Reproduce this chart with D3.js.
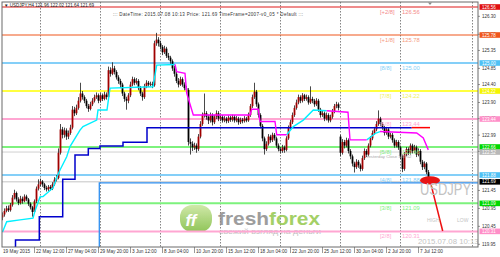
<!DOCTYPE html>
<html>
<head>
<meta charset="utf-8">
<script src="https://cdn.jsdelivr.net/npm/d3@7"></script>
<style>
  body { margin: 0; background: #fff; }
  svg { display: block; font-family: Arial, "Liberation Sans", sans-serif; }
</style>
</head>
<body>
<script>
// USDJPY H4, 19 May 20:00 .. 8 Jul 08:00 2015 (bar index 0..213)
var opens = [
  120.70,120.78,120.88,120.95,120.90,121.05,121.25,121.38,121.20,121.10,
  121.22,121.15,121.28,121.20,121.08,120.98,120.85,121.15,121.50,121.62,
  121.70,121.62,121.52,121.48,121.55,121.50,121.62,121.75,121.80,122.50,
  123.15,123.00,123.12,122.95,123.05,123.20,123.70,123.60,123.75,123.95,
  124.15,124.05,123.95,123.80,123.72,123.85,123.95,124.05,124.10,123.95,
  124.10,124.00,124.12,124.05,124.80,124.70,124.85,124.75,124.60,124.50,
  124.40,124.15,124.00,123.95,124.10,124.40,124.55,124.45,124.50,124.30,
  124.15,124.05,124.35,124.45,124.40,124.42,124.38,125.55,125.65,125.55,
  125.45,125.30,125.40,125.20,125.15,125.05,124.85,124.70,124.50,124.40,
  124.55,124.40,124.30,124.25,122.80,122.75,122.65,122.70,122.60,122.95,
  123.30,123.55,123.60,123.50,123.40,123.55,123.35,123.50,123.60,123.45,
  123.50,123.40,123.45,123.38,123.48,123.42,123.50,123.40,123.45,123.35,
  123.42,123.38,123.45,123.40,123.55,123.80,124.05,124.20,123.85,123.55,
  123.25,122.90,122.60,122.75,122.95,122.85,123.00,122.90,122.70,122.60,
  122.55,122.65,122.58,122.90,123.20,123.35,123.55,123.75,123.90,124.05,
  123.95,124.10,124.00,124.05,123.90,124.00,123.95,123.85,123.95,123.70,
  123.55,123.60,123.45,123.55,123.40,123.50,123.65,123.80,123.85,122.95,
  122.50,122.80,122.70,122.85,122.55,122.40,122.20,122.10,122.25,122.15,
  122.05,122.35,122.55,122.45,122.70,122.90,123.05,123.15,123.30,123.45,
  123.30,123.20,123.05,123.15,122.95,123.00,122.85,122.70,122.80,122.65,
  122.40,122.05,122.45,122.60,122.50,122.70,122.55,122.65,122.45,122.55,
  122.25,122.10,122.20,121.96
];
var highs = [
  120.84,120.95,121.02,121.03,121.10,121.32,121.47,121.42,121.26,121.30,
  121.28,121.34,121.33,121.24,121.12,121.02,121.20,121.56,121.76,121.78,
  121.74,121.66,121.58,121.60,121.60,121.68,121.82,121.88,122.62,123.30,
  123.22,123.20,123.18,123.12,123.28,123.80,123.78,123.84,124.05,124.45,
  124.22,124.10,124.00,123.86,123.92,124.02,124.12,124.18,124.15,124.16,
  124.15,124.20,124.18,124.90,124.88,125.02,124.92,124.80,124.66,124.56,
  124.45,124.20,124.06,124.16,124.48,124.62,124.60,124.58,124.55,124.36,
  124.20,124.42,124.52,124.50,124.48,124.48,125.62,125.84,125.72,125.62,
  125.50,125.48,125.45,125.28,125.20,125.10,124.92,124.76,124.58,124.62,
  124.60,124.46,124.36,124.30,122.90,122.82,122.78,122.76,123.02,123.38,
  123.62,124.15,123.66,123.56,123.62,123.60,123.56,123.68,123.66,123.56,
  123.55,123.52,123.50,123.54,123.53,123.56,123.55,123.52,123.50,123.48,
  123.47,123.52,123.50,123.62,123.86,124.12,124.45,124.25,123.90,123.60,
  123.30,122.95,122.82,123.02,123.00,123.06,123.05,122.95,122.76,122.66,
  122.72,122.70,122.96,123.26,123.42,123.62,123.82,123.98,124.12,124.10,
  124.16,124.14,124.12,124.10,124.35,124.06,124.00,124.02,124.00,123.75,
  123.68,123.65,123.62,123.60,123.56,123.72,123.86,123.92,123.90,123.00,
  122.88,122.86,122.92,122.90,122.60,122.45,122.25,122.32,122.30,122.20,
  122.42,122.62,122.60,122.76,122.96,123.12,123.22,123.38,123.68,123.50,
  123.35,123.25,123.22,123.20,123.06,123.05,122.90,122.86,122.85,122.70,
  122.45,122.52,122.66,122.65,122.76,122.75,122.72,122.70,122.62,122.60,
  122.30,122.26,122.24,122.02
];
var lows = [
  120.62,120.72,120.84,120.85,120.86,121.00,121.20,121.14,121.04,121.06,
  121.08,121.12,121.15,121.02,120.92,120.72,120.80,121.10,121.45,121.56,
  121.55,121.46,121.42,121.43,121.44,121.46,121.58,121.70,121.76,122.45,
  122.90,122.92,122.86,122.88,123.00,123.15,123.52,123.55,123.70,123.90,
  123.98,123.88,123.74,123.64,123.68,123.80,123.90,124.00,123.88,123.90,
  123.94,123.96,123.98,124.00,124.62,124.66,124.68,124.54,124.42,124.30,
  124.08,123.92,123.70,123.88,124.05,124.35,124.38,124.40,124.24,124.08,
  123.95,124.00,124.30,124.34,124.35,124.30,124.34,125.48,125.46,125.38,
  125.22,125.25,125.14,125.08,124.98,124.78,124.62,124.44,124.32,124.36,
  124.34,124.24,124.18,122.70,122.45,122.55,122.58,122.50,122.55,122.90,
  123.25,123.48,123.42,123.30,123.34,123.26,123.30,123.44,123.38,123.38,
  123.34,123.35,123.32,123.33,123.36,123.37,123.34,123.35,123.28,123.30,
  123.32,123.34,123.35,123.36,123.50,123.75,124.00,123.78,123.48,123.18,
  122.82,122.45,122.55,122.70,122.78,122.80,122.84,122.64,122.54,122.48,
  122.50,122.50,122.54,122.86,123.15,123.30,123.50,123.70,123.85,123.88,
  123.90,123.94,123.95,123.84,123.86,123.88,123.78,123.80,123.64,123.48,
  123.50,123.38,123.40,123.34,123.35,123.45,123.60,123.74,123.68,122.40,
  122.45,122.62,122.65,122.48,122.32,122.12,121.95,122.05,122.08,121.98,
  122.00,122.30,122.38,122.40,122.65,122.85,123.00,123.10,123.25,123.24,
  123.14,122.98,123.00,122.88,122.90,122.78,122.64,122.65,122.58,122.32,
  121.96,122.00,122.40,122.44,122.45,122.48,122.50,122.38,122.40,122.18,
  122.02,122.04,121.90,121.64
];
var closes = [
  120.78,120.88,120.95,120.90,121.05,121.25,121.38,121.20,121.10,121.22,
  121.15,121.28,121.20,121.08,120.98,120.85,121.15,121.50,121.62,121.70,
  121.62,121.52,121.48,121.55,121.50,121.62,121.75,121.80,122.50,123.15,
  123.00,123.12,122.95,123.05,123.20,123.70,123.60,123.75,123.95,124.15,
  124.05,123.95,123.80,123.72,123.85,123.95,124.05,124.10,123.95,124.10,
  124.00,124.12,124.05,124.80,124.70,124.85,124.75,124.60,124.50,124.40,
  124.15,124.00,123.95,124.10,124.40,124.55,124.45,124.50,124.30,124.15,
  124.05,124.35,124.45,124.40,124.42,124.38,125.55,125.65,125.55,125.45,
  125.30,125.40,125.20,125.15,125.05,124.85,124.70,124.50,124.40,124.55,
  124.40,124.30,124.25,122.80,122.75,122.65,122.70,122.60,122.95,123.30,
  123.55,123.60,123.50,123.40,123.55,123.35,123.50,123.60,123.45,123.50,
  123.40,123.45,123.38,123.48,123.42,123.50,123.40,123.45,123.35,123.42,
  123.38,123.45,123.40,123.55,123.80,124.05,124.20,123.85,123.55,123.25,
  122.90,122.60,122.75,122.95,122.85,123.00,122.90,122.70,122.60,122.55,
  122.65,122.58,122.90,123.20,123.35,123.55,123.75,123.90,124.05,123.95,
  124.10,124.00,124.05,123.90,124.00,123.95,123.85,123.95,123.70,123.55,
  123.60,123.45,123.55,123.40,123.50,123.65,123.80,123.85,123.75,122.50,
  122.80,122.70,122.85,122.55,122.40,122.20,122.10,122.25,122.15,122.05,
  122.35,122.55,122.45,122.70,122.90,123.05,123.15,123.30,123.45,123.30,
  123.20,123.05,123.15,122.95,123.00,122.85,122.70,122.80,122.65,122.40,
  122.05,122.45,122.60,122.50,122.70,122.55,122.65,122.45,122.55,122.25,
  122.10,122.20,121.96,121.69
];

var timeLabels = ["22 May 12:00", "27 May 04:00", "29 May 20:00", "3 Jun 12:00", "8 Jun 04:00",
                  "10 Jun 20:00", "15 Jun 12:00", "18 Jun 04:00", "22 Jun 20:00", "25 Jun 12:00",
                  "30 Jun 04:00", "2 Jul 20:00", "7 Jul 12:00"];
var timeLabelBars = [16, 32, 48, 64, 80, 96, 112, 128, 144, 160, 176, 192, 208];
var gridBars = [19, 49, 79, 109, 139, 169, 199, 235];
var priceTicks = [126.30, 125.80, 125.35, 124.85, 124.40, 123.90, 123.45, 122.99, 122.54,
                  121.45, 120.95, 120.45, 119.95];

var murreyLabels = ["[+2/8]", "[+1/8]", "[8/8]", "[7/8]", "[6/8]", "[5/8]", "[4/8]", "[3/8]", "[2/8]"];
var murreyValues = [126.56, 125.78, 125.00, 124.22, 123.44, 122.66, 121.88, 121.09, 120.31];
var murreyLineColors = ["#e01b1b", "#f0561c", "#84cff8", "#ffff40", "#ffa6d2", "#7df27d", "#84cff8", "#7df27d", "#ffa6d2"];
var murreyTextColors = ["#f48a8a", "#f59a80", "#84cff8", "#f0f060", "#ffa6d2", "#80f080", "#84cff8", "#80f080", "#ffa6d2"];

var axisBoxValues = [126.56, 125.78, 125.00, 124.22, 123.44, 122.66, 122.52, 121.88, 121.69, 121.09, 120.31];
var axisBoxColors = ["#e01010", "#f0561c", "#4fc1f5", "#f5f500", "#ff8fc8", "#00d800", "#b8b8b8", "#4fc1f5", "#000000", "#00d800", "#ff8fc8"];

// trailing-stop style indicator lines: [bar, price]
var cyanSegments = [
  [[0,120.29],[2.1,120.58],[8.75,120.63],[15.25,120.68],[16.25,120.88],[18.75,121.27],[20.25,121.28],
   [25.25,121.52],[27.25,121.83],[28.75,122.02],[32.1,122.39],[33.75,122.67],[38.75,123.13],[40.25,123.23],
   [47.1,123.41],[47.75,123.69],[52.25,123.69],[53.75,124.30],[75.25,124.34],[77.1,124.94],[86.25,124.96]],
  [[142.1,123.00],[145.4,123.23],[150.4,123.41],[155.4,123.69],[162.1,123.67]],
  [[182.1,122.86],[186.75,123.05],[188.75,123.09]]
];
var magentaSegments = [
  [[86.25,124.96],[87.1,124.76],[91.25,124.71],[92.1,124.16],[95.4,123.55],[123.75,123.55],[124.6,123.71],
   [127.9,123.71],[128.75,123.37],[136.25,123.37],[137.1,123.00],[142.1,123.00]],
  [[162.1,123.67],[172.75,123.63],[173.75,122.86],[182.1,122.86]],
  [[188.75,123.09],[207.1,123.05],[210.4,122.91],[212.9,122.58]]
];
var navyLine = [[6.0,119.87],[6.5,120.07],[18.4,120.72],[30.1,121.76],[36.25,122.44],[42.9,122.62],
                [48.75,122.69],[60.25,122.79],[72.25,123.20],[204.6,123.20]];
var navyTail = [[204.6,123.20],[213.75,123.20]];
var blueLine = [[48.4,119.80],[48.4,121.66],[238,121.66]];
var bidPrice = 121.69, yesterdayClose = 122.52;
var ellipseAt = [213.75, 121.73];
var arrowTo = [220.1, 120.32];

var W = 500, H = 257;
var L = 2, R = 478, T = 2, B = 247;

var x = d3.scaleLinear().domain([0, 238]).range([2.5, 478.5]);
var y = d3.scaleLinear().domain([119.95, 126.56]).range([244.3, 7]);

var svg = d3.select("body").append("svg").attr("width", W).attr("height", H);
svg.append("rect").attr("width", W).attr("height", H).attr("fill", "#fff");

svg.append("clipPath").attr("id", "plot").append("rect")
   .attr("x", L).attr("y", T).attr("width", R - L).attr("height", B - T);
var g = svg.append("g").attr("clip-path", "url(#plot)");

// weekly grid
g.selectAll("line.grid").data(gridBars).join("line")
  .attr("x1", d => x(d)).attr("x2", d => x(d)).attr("y1", T).attr("y2", B)
  .attr("stroke", "#666").attr("stroke-width", 0.8).attr("stroke-dasharray", "1.5,1.5");

// logo (background watermark)
var logo = g.append("g").attr("opacity", 0.85);
var grad = svg.append("defs").append("linearGradient").attr("id", "ffg")
  .attr("x1", 0).attr("y1", 0).attr("x2", 0).attr("y2", 1);
grad.append("stop").attr("offset", "0%").attr("stop-color", "#c8e59a");
grad.append("stop").attr("offset", "100%").attr("stop-color", "#7dbb3c");
logo.append("rect").attr("x", 180).attr("y", 205).attr("width", 32).attr("height", 27).attr("rx", 12)
  .attr("fill", "url(#ffg)");
logo.append("text").attr("x", 185.5).attr("y", 225.5).attr("font-size", 17).attr("font-weight", "bold")
  .attr("font-style", "italic").attr("fill", "#fff").text("ff");
var brand = logo.append("text").attr("x", 218).attr("y", 225).attr("font-size", 19).attr("font-weight", "bold")
  .attr("textLength", 102).attr("lengthAdjust", "spacingAndGlyphs");
brand.append("tspan").attr("fill", "#8d8d8d").text("fresh");
brand.append("tspan").attr("fill", "#94c84c").text("forex");
logo.append("text").attr("x", 219).attr("y", 234).attr("font-size", 6.5).attr("fill", "#b5b5b5")
  .attr("textLength", 102).attr("lengthAdjust", "spacingAndGlyphs").text("свежий взгляд на деньги");

// reference lines
g.append("line").attr("x1", L).attr("x2", R).attr("y1", y(yesterdayClose)).attr("y2", y(yesterdayClose))
  .attr("stroke", "#d0d0d0").attr("stroke-width", 1);
g.append("line").attr("x1", L).attr("x2", R).attr("y1", y(bidPrice)).attr("y2", y(bidPrice))
  .attr("stroke", "#c4c4c4").attr("stroke-width", 1);

g.selectAll("line.murrey").data(murreyValues).join("line")
  .attr("x1", L).attr("x2", R).attr("y1", d => y(d)).attr("y2", d => y(d))
  .attr("stroke", (d, i) => murreyLineColors[i]).attr("stroke-width", (d, i) => i < 2 ? 1.2 : 2);

var line = d3.line().x(d => x(d[0])).y(d => y(d[1]));
var stepLine = d3.line().x(d => x(d[0])).y(d => y(d[1])).curve(d3.curveStepAfter);

g.append("path").attr("d", line(blueLine)).attr("fill", "none").attr("stroke", "#2f8ff0").attr("stroke-width", 1.3);

// candles
var idx = d3.range(closes.length);
g.selectAll("line.wick").data(idx).join("line")
  .attr("x1", i => x(i)).attr("x2", i => x(i))
  .attr("y1", i => y(highs[i])).attr("y2", i => y(lows[i]))
  .attr("stroke", "#1a1a1a").attr("stroke-width", 0.8);
g.selectAll("rect.body").data(idx).join("rect")
  .attr("x", i => x(i) - 0.9).attr("width", 1.8)
  .attr("y", i => y(Math.max(opens[i], closes[i])))
  .attr("height", i => Math.max(0.8, Math.abs(y(opens[i]) - y(closes[i]))))
  .attr("fill", i => closes[i] >= opens[i] ? "#a00000" : "#000");

// indicators
g.append("path").attr("d", stepLine(navyLine)).attr("fill", "none").attr("stroke", "#0000cc").attr("stroke-width", 1.5);
g.append("path").attr("d", line(navyTail)).attr("fill", "none").attr("stroke", "#ff0000").attr("stroke-width", 1.5);
cyanSegments.forEach(s => g.append("path").attr("d", line(s)).attr("fill", "none")
  .attr("stroke", "#00f0ff").attr("stroke-width", 1.4));
magentaSegments.forEach(s => g.append("path").attr("d", line(s)).attr("fill", "none")
  .attr("stroke", "#ff00ff").attr("stroke-width", 1.4));

// murrey captions
g.selectAll("text.ml").data(murreyValues).join("text")
  .attr("x", 380).attr("y", d => y(d) + 6.8).attr("font-size", 5.8)
  .attr("fill", (d, i) => murreyTextColors[i]).text((d, i) => murreyLabels[i]);
g.selectAll("text.mv").data(murreyValues).join("text")
  .attr("x", 402).attr("y", d => y(d) + 6.8).attr("font-size", 5.8)
  .attr("fill", (d, i) => murreyTextColors[i]).text(d => d.toFixed(2));

g.append("text").attr("x", 366).attr("y", y(yesterdayClose) + 5.5).attr("font-size", 4.3).attr("fill", "#a8a8a8")
  .text("Yesterday Close 122.52");

// annotations
g.append("line").attr("x1", x(ellipseAt[0])).attr("y1", y(ellipseAt[1]))
  .attr("x2", x(arrowTo[0])).attr("y2", y(arrowTo[1])).attr("stroke", "#ee1111").attr("stroke-width", 1.5);
g.append("ellipse").attr("cx", x(ellipseAt[0])).attr("cy", y(ellipseAt[1])).attr("rx", 10).attr("ry", 4.2)
  .attr("fill", "#e81414");
g.append("text").attr("x", 420).attr("y", 195).attr("font-size", 16).attr("fill", "#c2c2c2")
  .attr("textLength", 51).attr("lengthAdjust", "spacingAndGlyphs").text("USDJPY");
g.append("text").attr("x", 427).attr("y", 222).attr("font-size", 5).attr("fill", "#c4c4c4").text("HIGH");
g.append("text").attr("x", 457).attr("y", 222).attr("font-size", 5).attr("fill", "#c4c4c4").text("LOW");
g.append("text").attr("x", 418).attr("y", 243.5).attr("font-size", 7.8).attr("fill", "#c4c4c4").text("2015.07.08 10:13");

// header
g.append("text").attr("x", 4).attr("y", 6.6).attr("font-size", 4.5).attr("fill", "#222")
  .text("\u25BC USDJPY,H4  121.96 122.02 121.64 121.69");
g.append("text").attr("x", 113).attr("y", 15.5).attr("font-size", 4.5).attr("fill", "#333")
  .attr("textLength", 190).attr("lengthAdjust", "spacing")
  .text("::: DateTime: 2015.07.08 10:13    Price: 121.69    TimeFrame=2007-v0_05   *   Default :::");

// frame
svg.append("rect").attr("x", L).attr("y", T).attr("width", R - L).attr("height", B - T)
  .attr("fill", "none").attr("stroke", "#6a6a6a").attr("stroke-width", 1);
svg.append("path").attr("d", "M428,2.5L432,2.5L430,5Z").attr("fill", "#888");

// price axis
var ya = svg.append("g");
ya.selectAll("line").data(priceTicks).join("line")
  .attr("x1", R).attr("x2", R + 2).attr("y1", d => y(d)).attr("y2", d => y(d)).attr("stroke", "#555").attr("stroke-width", 0.6);
ya.selectAll("text").data(priceTicks).join("text")
  .attr("x", 482).attr("y", d => y(d) + 1.6).attr("font-size", 4.5).attr("fill", "#333").text(d => d.toFixed(2));
var boxes = svg.append("g");
boxes.selectAll("rect").data(axisBoxValues).join("rect")
  .attr("x", 479.5).attr("width", 20.5).attr("y", d => y(d) - 2.8).attr("height", 5.6)
  .attr("fill", (d, i) => axisBoxColors[i]);
boxes.selectAll("text").data(axisBoxValues).join("text")
  .attr("x", 482).attr("y", d => y(d) + 1.6).attr("font-size", 4.5).attr("fill", "#fff").text(d => d.toFixed(2));

// time axis
var xa = svg.append("g");
xa.append("text").attr("x", 3).attr("y", 253).attr("font-size", 4.7).attr("fill", "#333").text("19 May 2015");
xa.selectAll("line").data(timeLabelBars).join("line")
  .attr("x1", d => x(d)).attr("x2", d => x(d)).attr("y1", B).attr("y2", 253)
  .attr("stroke", "#555").attr("stroke-width", 0.6);
xa.selectAll("text.t").data(timeLabelBars).join("text")
  .attr("x", d => x(d) + 1.5).attr("y", 253).attr("font-size", 4.7).attr("fill", "#333")
  .text((d, i) => timeLabels[i]);
</script>
</body>
</html>
